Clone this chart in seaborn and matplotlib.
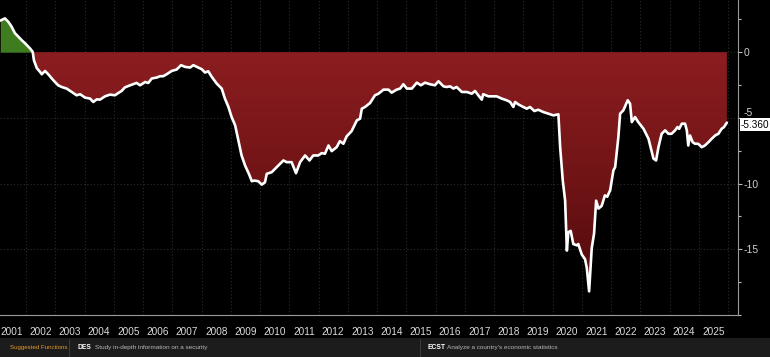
import numpy as np
import pandas as pd
import matplotlib
matplotlib.use("Agg")
import matplotlib.pyplot as plt
import seaborn as sns
from matplotlib.colors import LinearSegmentedColormap
from matplotlib.path import Path
from matplotlib.patches import Rectangle
from matplotlib.lines import Line2D

# ---------------- data ----------------
dates = [2001.12, 2001.28, 2001.40, 2001.51, 2001.62, 2001.74, 2001.85, 2001.97,
         2002.14, 2002.23, 2002.27, 2002.37, 2002.48, 2002.54, 2002.65, 2002.76,
         2002.88, 2002.99, 2003.10, 2003.22, 2003.39, 2003.56, 2003.73, 2003.85,
         2004.02, 2004.19, 2004.30, 2004.42, 2004.53, 2004.70, 2004.87, 2005.04,
         2005.16, 2005.27, 2005.38, 2005.56, 2005.78, 2005.90, 2006.07, 2006.18,
         2006.30, 2006.47, 2006.58, 2006.69, 2006.81, 2006.98, 2007.15, 2007.30,
         2007.44, 2007.61, 2007.72, 2007.84, 2008.01, 2008.12, 2008.23, 2008.35,
         2008.52, 2008.69, 2008.80, 2008.92, 2009.03, 2009.15, 2009.26, 2009.37,
         2009.49, 2009.62, 2009.72, 2009.80, 2009.94, 2010.06, 2010.17, 2010.23,
         2010.40, 2010.57, 2010.80, 2010.91, 2011.08, 2011.23, 2011.37, 2011.54,
         2011.69, 2011.82, 2011.99, 2012.11, 2012.22, 2012.34, 2012.45, 2012.62,
         2012.73, 2012.85, 2012.96, 2013.13, 2013.31, 2013.42, 2013.48, 2013.59,
         2013.76, 2013.93, 2014.05, 2014.22, 2014.39, 2014.50, 2014.67, 2014.79,
         2014.90, 2015.02, 2015.19, 2015.36, 2015.50, 2015.64, 2015.81, 2015.98,
         2016.10, 2016.27, 2016.38, 2016.50, 2016.61, 2016.72, 2016.90, 2017.07,
         2017.24, 2017.35, 2017.46, 2017.58, 2017.63, 2017.81, 2017.98, 2018.09,
         2018.26, 2018.43, 2018.55, 2018.66, 2018.72, 2018.83, 2019.00, 2019.12,
         2019.23, 2019.38, 2019.51, 2019.69, 2019.86, 2020.03, 2020.14, 2020.20,
         2020.26, 2020.35, 2020.43, 2020.49, 2020.54, 2020.62, 2020.71, 2020.83,
         2020.88, 2021.00, 2021.11, 2021.17, 2021.25, 2021.34, 2021.42, 2021.49,
         2021.57, 2021.68, 2021.79, 2021.87, 2021.97, 2022.08, 2022.14, 2022.25,
         2022.31, 2022.42, 2022.57, 2022.65, 2022.71, 2022.82, 2022.93, 2023.11,
         2023.28, 2023.45, 2023.54, 2023.62, 2023.73, 2023.85, 2023.96, 2024.07,
         2024.19, 2024.27, 2024.33, 2024.42, 2024.53, 2024.59, 2024.64, 2024.70,
         2024.79, 2024.87, 2024.98, 2025.10, 2025.21, 2025.33, 2025.44, 2025.56,
         2025.67, 2025.78, 2025.86, 2025.96]

values = [2.40, 2.57, 2.30, 1.93, 1.45, 1.17, 0.92, 0.67,
          0.28, 0.02, -0.61, -1.22, -1.50, -1.68, -1.43, -1.68,
          -2.00, -2.27, -2.52, -2.65, -2.77, -3.03, -3.28, -3.20,
          -3.46, -3.53, -3.79, -3.59, -3.61, -3.36, -3.23, -3.28,
          -3.10, -2.95, -2.68, -2.52, -2.34, -2.52, -2.27, -2.34,
          -2.00, -1.93, -1.83, -1.83, -1.68, -1.43, -1.32, -0.99,
          -1.12, -1.17, -0.99, -1.12, -1.30, -1.55, -1.45, -1.88,
          -2.39, -2.77, -3.53, -4.17, -4.94, -5.57, -6.72, -7.86,
          -8.63, -9.26, -9.82, -9.77, -9.82, -10.08, -9.90, -9.26,
          -9.13, -8.75, -8.24, -8.37, -8.37, -9.21, -8.37, -7.86,
          -8.24, -7.86, -7.86, -7.68, -7.73, -7.10, -7.53, -7.23,
          -6.77, -6.97, -6.41, -6.01, -5.19, -5.06, -4.30, -4.17,
          -3.87, -3.28, -3.16, -2.85, -2.85, -3.08, -2.85, -2.77,
          -2.44, -2.77, -2.77, -2.32, -2.52, -2.32, -2.44, -2.52,
          -2.21, -2.60, -2.65, -2.60, -2.77, -2.65, -3.03, -3.03,
          -3.16, -2.95, -3.28, -3.61, -3.20, -3.36, -3.36, -3.36,
          -3.53, -3.66, -3.79, -4.17, -3.79, -3.97, -4.17, -4.30,
          -4.17, -4.48, -4.38, -4.56, -4.68, -4.81, -4.76, -4.73,
          -7.23, -9.77, -11.30, -15.10, -13.70, -13.60, -14.60, -14.70,
          -14.60, -15.40, -15.75, -16.40, -18.20, -14.90, -13.80, -11.30,
          -11.90, -11.70, -10.90, -11.00, -10.50, -9.00, -8.75, -6.47,
          -4.68, -4.43, -3.66, -3.92, -5.32, -4.94, -5.32, -5.83,
          -6.59, -8.10, -8.24, -7.23, -6.21, -5.95, -6.21, -6.21,
          -5.95, -5.70, -5.83, -5.44, -5.44, -5.95, -7.10, -6.34,
          -6.85, -6.97, -6.97, -7.23, -7.10, -6.85, -6.59, -6.34,
          -6.21, -5.83, -5.70, -5.36]

year_labels = ["2001", "2002", "2003", "2004", "2005", "2006", "2007", "2008",
               "2009", "2010", "2011", "2012", "2013", "2014", "2015", "2016",
               "2017", "2018", "2019", "2020", "2021", "2022", "2023", "2024",
               "2025"]
year_starts = [2001 + i for i in range(len(year_labels))]
y_ticks = [0, -5, -10, -15]
y_tick_labels = ["0", "-5", "-10", "-15"]
y_minor_ticks = [2.5, -2.5, -7.5, -12.5, -17.5, -20]
last_value_label = "-5.360"
footer_title = "Suggested Functions"
footer_items = [("DES", "Study in-depth information on a security"),
                ("ECST", "Analyze a country's economic statistics")]

# ---------------- style ----------------
sns.set_style("dark", rc={"axes.facecolor": "black", "figure.facecolor": "black"})
plt.rcParams["font.family"] = ["Liberation Sans", "DejaVu Sans"]

W, H = 770, 357
fig = plt.figure(figsize=(W / 100, H / 100), dpi=100, facecolor="black")
ax = fig.add_axes([0, 42 / H, 738 / W, 315 / H])
ax.set_facecolor("black")

df = pd.DataFrame({"date": dates, "value": values})
XMIN, XMAX = 2001.111, 2026.34
YMIN, YMAX = -20.0, 3.97

# positive area (green)
ax.fill_between(df["date"], df["value"], 0, where=df["value"] >= 0,
                interpolate=True, color="#3f7b1f", lw=0, zorder=1)
# negative area: gradient clipped to polygon
neg = ax.fill_between(df["date"], df["value"], 0, where=df["value"] <= 0,
                      interpolate=True, facecolor="none", lw=0, zorder=1)
cmap = LinearSegmentedColormap.from_list("redgrad", ["#8c1d20", "#711416", "#4e0a0b"])
grad = np.linspace(0, 1, 256).reshape(-1, 1)
im = ax.imshow(grad, extent=(XMIN, XMAX, -19, 0), origin="upper", aspect="auto",
               cmap=cmap, zorder=1, interpolation="bilinear")
clip = Path.make_compound_path(*neg.get_paths())
im.set_clip_path(clip, ax.transData)

sns.lineplot(data=df, x="date", y="value", color="white", lw=1.9, ax=ax,
             zorder=3, sort=False)

ax.set_xlim(XMIN, XMAX)
ax.set_ylim(YMIN, YMAX)
ax.set_xlabel("")
ax.set_ylabel("")

# grid
for yv in y_ticks:
    ax.axhline(yv, color="#2c2c2c", lw=0.8, ls=(0, (1, 2)), zorder=0.5)
for xv in year_starts[1:] + [year_starts[-1] + 1]:
    ax.axvline(xv, color="#2c2c2c", lw=0.8, ls=(0, (1, 2)), zorder=0.5)

# spines
for s in ["top", "left"]:
    ax.spines[s].set_visible(False)
for s in ["right", "bottom"]:
    ax.spines[s].set_visible(True)
    ax.spines[s].set_color("#9a9a9a")
    ax.spines[s].set_linewidth(0.8)

# y axis on the right
ax.yaxis.tick_right()
ax.set_yticks(y_ticks)
ax.set_yticklabels(y_tick_labels)
ax.set_yticks(y_minor_ticks, minor=True)
ax.tick_params(axis="y", which="major", direction="out", length=3, width=0.8,
               color="#bbbbbb", labelcolor="#d0d0d0", labelsize=7.5, pad=1,
               left=False, right=True)
ax.tick_params(axis="y", which="minor", direction="out", length=2, width=0.8,
               color="#bbbbbb", left=False, right=True)
# the -5 label sits just above the last-value box, as in the reference
for lbl in ax.get_yticklabels():
    if lbl.get_text() == "-5":
        lbl.set_va("bottom")

# x axis: separators at year starts, labels at mid-year
ax.set_xticks(year_starts[1:] + [year_starts[-1] + 1])
ax.set_xticklabels([])
ax.set_xticks([y + 0.5 for y in year_starts], minor=True)
ax.set_xticklabels(year_labels, minor=True)
ax.tick_params(axis="x", which="major", direction="out", length=16, width=0.8,
               color="#444444")
ax.tick_params(axis="x", which="minor", length=0, labelsize=7.2,
               labelcolor="#dcdcdc", pad=8.5)

# last value box
fig.text(741 / W, 1 - 124.5 / H, last_value_label, ha="left", va="center",
         fontsize=7.2, color="black", zorder=5,
         bbox=dict(boxstyle="square,pad=0.12", fc="white", ec="none"))

# footer bar
fig.patches.append(Rectangle((0, 0), 1, 19 / H, transform=fig.transFigure,
                             facecolor="#1c1c1c", edgecolor="none", zorder=0))
fy = 1 - 347.5 / H
fig.text(10 / W, fy, footer_title, color="#e39a2d", fontsize=4.4,
         ha="left", va="center")
fig.lines.append(Line2D([69 / W, 69 / W], [1 / H, 18 / H], transform=fig.transFigure,
                        color="#3a3a3a", lw=0.8))
fig.lines.append(Line2D([420 / W, 420 / W], [1 / H, 18 / H], transform=fig.transFigure,
                        color="#3a3a3a", lw=0.8))
for (code, desc), (xc, xd) in zip(footer_items, [(78, 95), (428, 447)]):
    fig.text(xc / W, fy, code, color="white", fontsize=4.9, weight="bold",
             ha="left", va="center")
    fig.text(xd / W, fy, desc, color="#b8b8b8", fontsize=4.6,
             ha="left", va="center")

fig.savefig("out.png", dpi=100, facecolor="black")
